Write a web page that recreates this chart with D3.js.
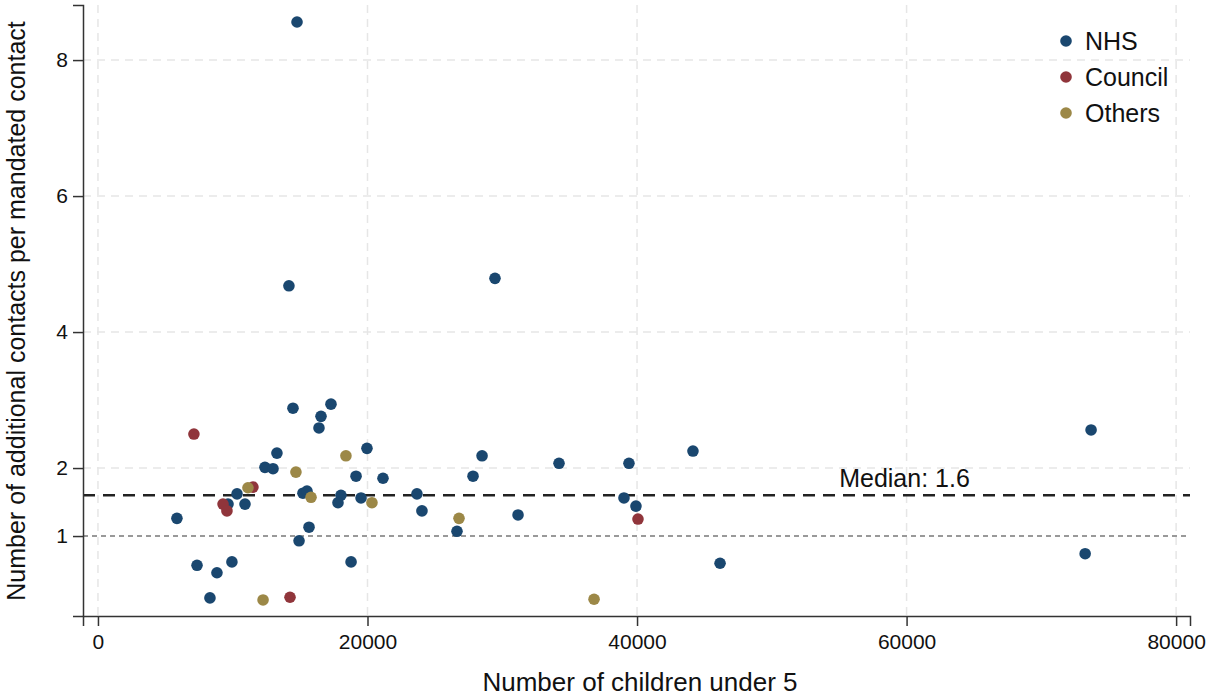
<!DOCTYPE html>
<html>
<head>
<meta charset="utf-8">
<script src="https://cdn.jsdelivr.net/npm/d3@7"></script>
<style>
  body { margin: 0; background: #fff; }
  text { font-family: 'Liberation Sans', Arial, sans-serif; fill: #111; }
</style>
</head>
<body>
<div id="chart"></div>
<script>
// children under 5 (x) and additional contacts per mandated contact (y)
var nhs_x = [14770, 14170, 29460, 73690, 73250, 46160, 44150, 39400, 39030, 39920,
  34210, 31170, 28500, 27830, 23670, 24040, 26640, 14470, 17290, 16550,
  16400, 19960, 19150, 21150, 15210, 15510, 18030, 17810, 19520, 15660,
  14920, 18780, 13280, 12390, 12990, 10320, 9650, 10910, 5860, 7350,
  8830, 9940, 8310]
var nhs_y = [8.56, 4.68, 4.79, 2.56, 0.74, 0.60, 2.25, 2.07, 1.56, 1.44,
  2.07, 1.31, 2.18, 1.88, 1.62, 1.37, 1.07, 2.88, 2.94, 2.76,
  2.59, 2.29, 1.88, 1.85, 1.63, 1.66, 1.60, 1.49, 1.56, 1.13,
  0.93, 0.62, 2.22, 2.01, 1.99, 1.62, 1.47, 1.47, 1.26, 0.57,
  0.46, 0.62, 0.09]
var council_x = [7120, 11500, 9280, 9570, 14250, 40070]
var council_y = [2.50, 1.72, 1.47, 1.37, 0.10, 1.25]
var others_x = [11130, 14690, 15810, 18400, 20330, 12250, 26790, 36810]
var others_y = [1.71, 1.94, 1.57, 2.18, 1.49, 0.06, 1.26, 0.07]

var groups = ['NHS', 'Council', 'Others']
var group_colors = ['#1a476f', '#90353b', '#9c8847']
var x_ticks = [0, 20000, 40000, 60000, 80000]
var y_ticks = [1, 2, 4, 6, 8]
var y_grid = [2, 4, 6, 8]
var median_value = 1.6
var reference_value = 1

var margin = { top: 5, right: 34, bottom: 80, left: 83 }
var width = 1224 - margin.left - margin.right
var height = 696 - margin.top - margin.bottom

var svg = d3.select('#chart')
  .append('svg')
  .attr('width', 1224)
  .attr('height', 696)
  .append('g')
  .attr('transform', 'translate(' + margin.left + ',' + margin.top + ')')

var x = d3.scaleLinear()
  .domain([-1110, 81030])
  .range([0, width])

var y = d3.scaleLinear()
  .domain([-0.176, 8.81])
  .range([height, 0])

// grid
svg.selectAll('.vgrid')
  .data(x_ticks)
  .enter()
  .append('line')
  .attr('x1', d => x(d)).attr('x2', d => x(d))
  .attr('y1', 0).attr('y2', height)
  .attr('stroke', '#e6e6e6')
  .attr('stroke-width', 1.5)
  .attr('stroke-dasharray', '8,6')

svg.selectAll('.hgrid')
  .data(y_grid)
  .enter()
  .append('line')
  .attr('x1', 0).attr('x2', width)
  .attr('y1', d => y(d)).attr('y2', d => y(d))
  .attr('stroke', '#e6e6e6')
  .attr('stroke-width', 1.5)
  .attr('stroke-dasharray', '8,6')

// reference line at 1
svg.append('line')
  .attr('x1', 0).attr('x2', width)
  .attr('y1', y(reference_value)).attr('y2', y(reference_value))
  .attr('stroke', '#999')
  .attr('stroke-width', 2)
  .attr('stroke-dasharray', '5,4')

// median line
svg.append('line')
  .attr('x1', 0).attr('x2', width)
  .attr('y1', y(median_value)).attr('y2', y(median_value))
  .attr('stroke', '#222')
  .attr('stroke-width', 2.5)
  .attr('stroke-dasharray', '12,8')

svg.append('text')
  .attr('x', x(55000))
  .attr('y', y(median_value) - 8)
  .text('Median: ' + median_value)
  .attr('font-size', 25)

// axes
var yAxis = svg.append('g')
  .call(d3.axisLeft(y).tickValues(y_ticks).tickSize(10).tickPadding(5))
var xAxis = svg.append('g')
  .attr('transform', 'translate(0,' + height + ')')
  .call(d3.axisBottom(x).tickValues(x_ticks).tickFormat(d3.format('d')).tickSize(10).tickPadding(8))

;[xAxis, yAxis].forEach(function (a) {
  a.select('.domain').attr('stroke', '#333').attr('stroke-width', 1.5)
  a.selectAll('.tick line').attr('stroke', '#333').attr('stroke-width', 1.5)
  a.selectAll('.tick text').attr('font-size', 21).attr('font-family', "'Liberation Sans', Arial, sans-serif").attr('fill', '#111')
})

// points
var series = [
  { xs: nhs_x, ys: nhs_y },
  { xs: council_x, ys: council_y },
  { xs: others_x, ys: others_y }
]
series.forEach(function (s, gi) {
  svg.selectAll('.dot-' + gi)
    .data(s.xs.map((v, i) => [v, s.ys[i]]))
    .enter()
    .append('circle')
    .attr('cx', d => x(d[0]))
    .attr('cy', d => y(d[1]))
    .attr('r', 5.8)
    .attr('fill', group_colors[gi])
})

// legend
var legend = svg.selectAll('.legend')
  .data(groups)
  .enter()
  .append('g')
  .attr('transform', (d, i) => 'translate(' + (1066 - margin.left) + ',' + (41 - margin.top + i * 36) + ')')
legend.append('circle')
  .attr('r', 5.8)
  .attr('fill', (d, i) => group_colors[i])
legend.append('text')
  .attr('x', 19)
  .attr('y', 9)
  .text(d => d)
  .attr('font-size', 25)

// axis titles
svg.append('text')
  .attr('x', 640 - margin.left)
  .attr('y', height + 75)
  .attr('text-anchor', 'middle')
  .attr('font-size', 26)
  .text('Number of children under 5')

svg.append('text')
  .attr('transform', 'translate(' + (-58) + ',' + (y(4.31)) + ') rotate(-90)')
  .attr('text-anchor', 'middle')
  .attr('font-size', 25)
  .text('Number of additional contacts per mandated contact')
</script>
</body>
</html>
